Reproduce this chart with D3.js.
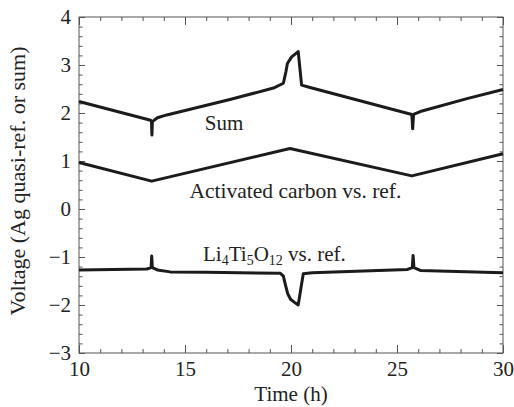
<!DOCTYPE html>
<html>
<head>
<meta charset="utf-8">
<script src="https://cdn.jsdelivr.net/npm/d3@7"></script>
<style>
  html, body { margin: 0; padding: 0; background: #ffffff; }
  svg { display: block; }
  text { font-family: "Liberation Serif", "Times New Roman", serif; fill: #222; }
</style>
</head>
<body>
<div id="chart"></div>
<script>
// Cell voltage traces over two charge/discharge half-cycles (time in hours)
const sumTime = [10, 13.38, 13.42, 13.44, 13.46, 13.7, 14.14, 17.12, 19.17, 19.64, 19.76, 19.83, 20.03, 20.34, 20.5, 20.9, 25.7, 25.74, 25.78, 26.1, 28.3, 30];
const sumVolt = [2.24, 1.85, 1.82, 1.54, 1.82, 1.90, 1.96, 2.28, 2.52, 2.62, 2.86, 3.03, 3.17, 3.28, 2.58, 2.53, 1.97, 1.67, 1.97, 2.03, 2.30, 2.49];

const carbonTime = [10, 13.43, 19.95, 25.7, 30];
const carbonVolt = [0.97, 0.58, 1.26, 0.69, 1.15];

const ltoTime = [10, 13.2, 13.40, 13.43, 13.46, 13.7, 14.3, 16, 19.5, 19.64, 19.72, 19.84, 19.98, 20.15, 20.34, 20.45, 20.58, 21, 25.5, 25.72, 25.76, 25.80, 26.1, 30];
const ltoVolt = [-1.27, -1.25, -1.22, -0.98, -1.22, -1.27, -1.31, -1.32, -1.34, -1.40, -1.55, -1.76, -1.88, -1.94, -2.0, -1.70, -1.35, -1.33, -1.26, -1.22, -0.97, -1.22, -1.28, -1.33];

const xMajorTicks = [10, 15, 20, 25, 30];
const yMajorTicks = [-3, -2, -1, 0, 1, 2, 3, 4];

const W = 514, H = 407;
const margin = { left: 79, right: 11, top: 17, bottom: 54 };
const iw = W - margin.left - margin.right;
const ih = H - margin.top - margin.bottom;

const svg = d3.select("#chart").append("svg")
  .attr("width", W).attr("height", H);

const g = svg.append("g").attr("transform", `translate(${margin.left},${margin.top})`);

const x = d3.scaleLinear().domain([10, 30]).range([0, iw]);
const y = d3.scaleLinear().domain([-3, 4]).range([ih, 0]);

const xMinor = d3.range(10, 30.001, 1).filter(v => v % 5 !== 0);
const yMinor = d3.range(-3, 4.001, 0.2).map(v => +v.toFixed(1)).filter(v => Math.abs(v - Math.round(v)) > 1e-6);

const fmt = d => (d < 0 ? "\u2212" + Math.abs(d) : String(d));
const axisColor = "#555";

function styleAxis(sel) {
  sel.select(".domain").remove();
  sel.selectAll("line").attr("stroke", axisColor).attr("stroke-width", 1);
  sel.selectAll("text").attr("font-size", 21).attr("fill", "#222")
    .style("font-family", "'Liberation Serif', 'Times New Roman', serif");
}

// bottom axis
g.append("g").attr("transform", `translate(0,${ih})`)
  .call(d3.axisBottom(x).tickValues(xMajorTicks).tickSize(-8).tickPadding(8).tickFormat(fmt)).call(styleAxis);
g.append("g").attr("transform", `translate(0,${ih})`)
  .call(d3.axisBottom(x).tickValues(xMinor).tickSize(-4).tickFormat("")).call(styleAxis);
// top axis
g.append("g")
  .call(d3.axisTop(x).tickValues(xMajorTicks).tickSize(-8).tickFormat("")).call(styleAxis);
g.append("g")
  .call(d3.axisTop(x).tickValues(xMinor).tickSize(-4).tickFormat("")).call(styleAxis);
// left axis
g.append("g")
  .call(d3.axisLeft(y).tickValues(yMajorTicks).tickSize(-6).tickPadding(8).tickFormat(fmt)).call(styleAxis);
g.append("g")
  .call(d3.axisLeft(y).tickValues(yMinor).tickSize(-3.5).tickFormat("")).call(styleAxis);
// right axis
g.append("g").attr("transform", `translate(${iw},0)`)
  .call(d3.axisRight(y).tickValues(yMajorTicks).tickSize(-6).tickFormat("")).call(styleAxis);
g.append("g").attr("transform", `translate(${iw},0)`)
  .call(d3.axisRight(y).tickValues(yMinor).tickSize(-3.5).tickFormat("")).call(styleAxis);

// frame
g.append("rect").attr("x", 0).attr("y", 0).attr("width", iw).attr("height", ih)
  .attr("fill", "none").attr("stroke", axisColor).attr("stroke-width", 1);

// traces
const line = d3.line().x(d => x(d[0])).y(d => y(d[1]));
const series = [
  d3.zip(sumTime, sumVolt),
  d3.zip(carbonTime, carbonVolt),
  d3.zip(ltoTime, ltoVolt)
];
g.selectAll("path.trace").data(series).join("path")
  .attr("class", "trace")
  .attr("d", line)
  .attr("fill", "none")
  .attr("stroke", "#1b1b1b")
  .attr("stroke-width", 3)
  .attr("stroke-linejoin", "round")
  .attr("stroke-linecap", "butt");

// curve labels
g.append("text").attr("x", x(16.84)).attr("y", y(1.646))
  .attr("text-anchor", "middle").attr("font-size", 21).text("Sum");
g.append("text").attr("x", x(20.21)).attr("y", y(0.23))
  .attr("text-anchor", "middle").attr("font-size", 21.5).text("Activated carbon vs. ref.");

const lto = g.append("text").attr("x", x(15.85)).attr("y", y(-1.083))
  .attr("text-anchor", "start").attr("font-size", 21);
lto.append("tspan").text("Li");
lto.append("tspan").attr("font-size", 14).attr("dy", 4).text("4");
lto.append("tspan").attr("dy", -4).text("Ti");
lto.append("tspan").attr("font-size", 14).attr("dy", 4).text("5");
lto.append("tspan").attr("dy", -4).text("O");
lto.append("tspan").attr("font-size", 14).attr("dy", 4).text("12");
lto.append("tspan").attr("dy", -4).text(" vs. ref.");

// axis titles
svg.append("text").attr("x", margin.left + iw / 2).attr("y", 401)
  .attr("text-anchor", "middle").attr("font-size", 21).text("Time (h)");
svg.append("text").attr("transform", `translate(25,181) rotate(-90)`)
  .attr("text-anchor", "middle").attr("font-size", 22).text("Voltage (Ag quasi-ref. or sum)");
</script>
</body>
</html>
